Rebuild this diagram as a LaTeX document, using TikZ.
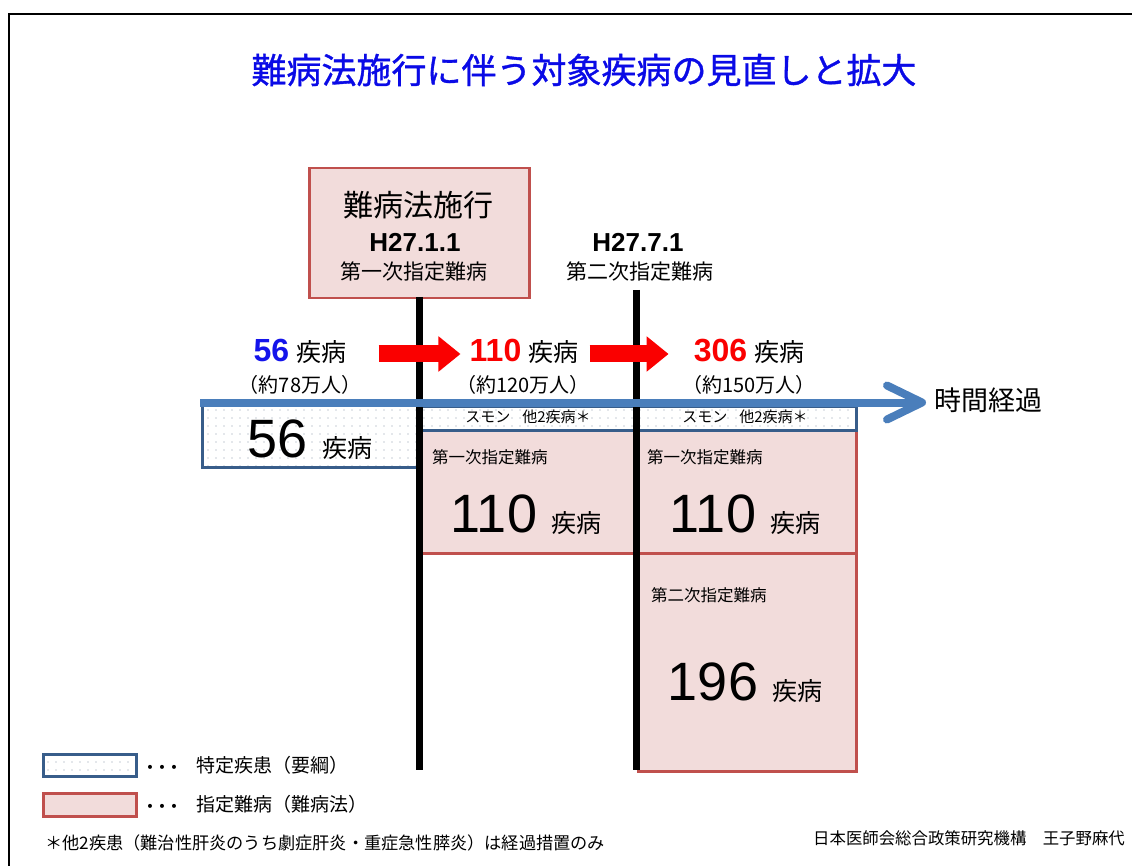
\documentclass[tikz,border=0pt]{standalone}
\usepackage{fontspec}
\setmainfont{Noto Sans CJK JP}
\newfontfamily\lat{Liberation Sans}
\newfontfamily\ttlfont[FakeBold=1]{Noto Sans CJK JP}
\usetikzlibrary{arrows.meta,patterns.meta}
\definecolor{ttlblue}{RGB}{10,10,230}
\definecolor{numblue}{RGB}{20,20,235}
\definecolor{numred}{RGB}{250,0,0}
\definecolor{pinkfill}{RGB}{242,220,219}
\definecolor{pinkline}{RGB}{192,80,77}
\definecolor{bline}{RGB}{56,93,138}
\definecolor{barrow}{RGB}{74,126,187}
\definecolor{dotc}{RGB}{140,150,170}
\newcommand\myfs[1]{\fontsize{#1pt}{#1pt}\selectfont}
\tikzset{
  pinkbox/.style={draw=pinkline, fill=pinkfill, line width=2.5pt, inner sep=0pt, anchor=north west},
  dotbox/.style={draw=bline, line width=2.5pt, inner sep=0pt, anchor=north west,
    pattern={Dots[distance=8pt,radius=0.65pt]}, pattern color=dotc},
  txt/.style={inner sep=0pt, text=black},
  vline/.style={line width=7pt, black},
  redarrow/.style={line width=17pt, numred, -{Triangle[length=22pt,width=34pt]}},
  bluearrow/.style={line width=8pt, barrow},
}
\begin{document}
\begin{tikzpicture}[x=1pt,y=-1pt]
\useasboundingbox (0,0) rectangle (1132,866);
% frame
\draw[line width=1.5pt] (9,866) -- (9,14) -- (1132,14);
% title
\node[txt, text=ttlblue] (title) at (584,70) {\ttlfont\myfs{35}難病法施行に伴う対象疾病の見直しと拡大};
% law box
\node[pinkbox, minimum width=220pt, minimum height=130pt] (law) at (308,167) {};
\node[txt] (lawa) at (418,205) {\myfs{30}難病法施行};
\node[txt] (lawb) at (415,242) {\lat\bfseries\myfs{26}H27.1.1};
\node[txt] (lawc) at (414,272) {\myfs{21}第一次指定難病};
\node[txt] (h2a) at (638,242) {\lat\bfseries\myfs{26}H27.7.1};
\node[txt] (h2b) at (640,272) {\myfs{21}第二次指定難病};
% column boxes
\node[pinkbox, minimum width=220pt, minimum height=123pt] (p1) at (416,429) {};
\node[pinkbox, minimum width=218pt, minimum height=123pt] (p2) at (637,429) {};
\node[pinkbox, minimum width=218pt, minimum height=218pt] (p3) at (637,552) {};
\node[dotbox, minimum width=220pt, minimum height=24pt] (s1) at (416,405) {};
\node[dotbox, minimum width=218pt, minimum height=24pt] (s2) at (637,405) {};
\node[dotbox, minimum width=216pt, minimum height=62pt] (d56) at (201,404) {};
% texts in boxes
\node[txt] (s1t) at (528,417) {\myfs{15}スモン\hspace{12pt}他2疾病＊};
\node[txt] (s2t) at (745,417) {\myfs{15}スモン\hspace{12pt}他2疾病＊};
\node[txt, anchor=west] (p1t) at (432,457) {\myfs{16.5}第一次指定難病};
\node[txt, anchor=west] (p2t) at (647,457) {\myfs{16.5}第一次指定難病};
\node[txt, anchor=west] (p3t) at (651,595) {\myfs{16.5}第二次指定難病};
\node[txt, anchor=base] (d56n) at (310,457) {{\lat\myfs{54}56}\hspace{14pt}{\myfs{25}疾病}};
\node[txt, anchor=base] (p1n) at (526,532) {{\lat\myfs{54}110}\hspace{14pt}{\myfs{25}疾病}};
\node[txt, anchor=base] (p2n) at (745,532) {{\lat\myfs{54}110}\hspace{14pt}{\myfs{25}疾病}};
\node[txt, anchor=base] (p3n) at (745,700) {{\lat\myfs{54}196}\hspace{14pt}{\myfs{25}疾病}};
% vertical lines
\coordinate (l1t) at (419,297);
\coordinate (l1b) at (419,770);
\coordinate (l2t) at (636.5,290);
\coordinate (l2b) at (636.5,770);
\draw[vline] (l1t) -- (l1b);
\draw[vline] (l2t) -- (l2b);
% counts row
\node[txt, anchor=base] (c1) at (300,362) {{\lat\bfseries\myfs{32}\color{numblue}56}\hspace{7pt}{\myfs{25}疾病}};
\node[txt, anchor=base] (c2) at (524,362) {{\lat\bfseries\myfs{32}\color{numred}110}\hspace{7pt}{\myfs{25}疾病}};
\node[txt, anchor=base] (c3) at (749,362) {{\lat\bfseries\myfs{32}\color{numred}306}\hspace{7pt}{\myfs{25}疾病}};
\node[txt] (c1b) at (300,385) {\myfs{20}（約78万人）};
\node[txt] (c2b) at (523,385) {\myfs{20}（約120万人）};
\node[txt] (c3b) at (749,385) {\myfs{20}（約150万人）};
\draw[redarrow] ([xshift=32pt,yshift=8pt]c1.base east) -- ([xshift=-9pt,yshift=8pt]c2.base west);
\draw[redarrow] ([xshift=11pt,yshift=8pt]c2.base east) -- ([xshift=-25pt,yshift=8pt]c3.base west);
% blue time arrow
\coordinate (bs) at (200,402.5);
\coordinate (bt) at (922,402.5);
\node[txt, anchor=west] (time) at (934,400) {\myfs{27}時間経過};
\draw[bluearrow] (bs) -- ([xshift=-4pt]bt);
\draw[bluearrow, line cap=round, line join=round] ([shift={(-35,-17)}]bt) -- (bt) -- ([shift={(-35,17)}]bt);
% legend
\node[dotbox, minimum width=93pt, minimum height=22pt] (lg1) at (42,753) {};
\node[pinkbox, minimum width=93pt, minimum height=23pt] (lg2) at (42,792) {};
\node[txt, anchor=west] (lg1d) at (144,771) {\myfs{24}･･･};
\node[txt, anchor=west] (lg1t) at (196,765) {\myfs{19}特定疾患（要綱）};
\node[txt, anchor=west] (lg2d) at (144,810) {\myfs{24}･･･};
\node[txt, anchor=west] (lg2t) at (196,804) {\myfs{19}指定難病（難病法）};
\node[txt, anchor=west] (note) at (45,843) {\myfs{17.2}＊他2疾患（難治性肝炎のうち劇症肝炎・重症急性膵炎）は経過措置のみ};
\node[txt, anchor=east] (cred) at (1125,838) {\myfs{16.4}日本医師会総合政策研究機構　王子野麻代};
\end{tikzpicture}
\end{document}
